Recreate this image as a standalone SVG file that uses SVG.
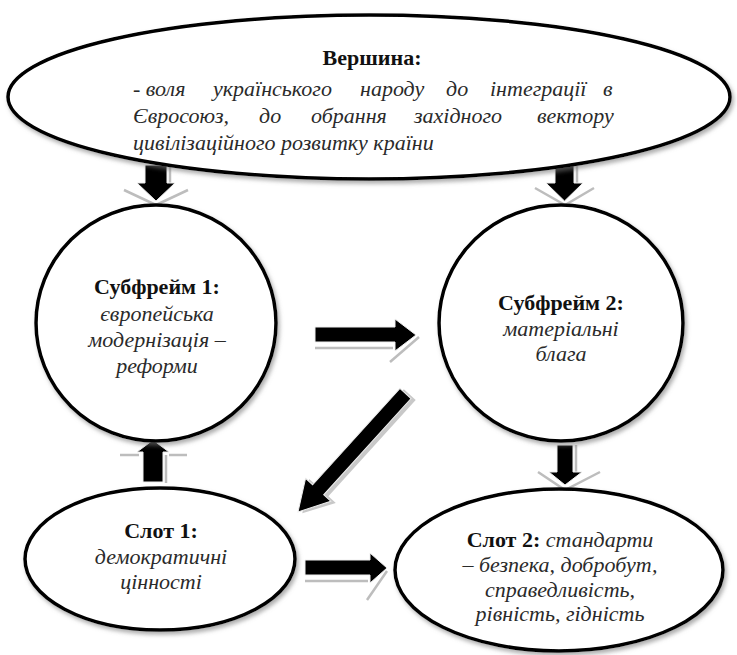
<svg xmlns="http://www.w3.org/2000/svg" width="737" height="655" viewBox="0 0 737 655">
<defs>
<style>
.node{fill:#fff;stroke:#000;stroke-width:3.5;filter:url(#sh)}
.b{font-family:"Liberation Serif","Times New Roman",serif;font-weight:bold;font-size:22px;fill:#111;text-anchor:middle}
.i{font-family:"Liberation Serif","Times New Roman",serif;font-style:italic;font-size:22px;fill:#2a2a2a}
.c{text-anchor:middle}
.arr{fill:#000;stroke:#eee;stroke-width:1}
.sh{fill:none;stroke:#bdbdbd;stroke-width:2.5}
</style>
<filter id="sh" x="-10%" y="-10%" width="125%" height="130%">
<feDropShadow dx="2" dy="3" stdDeviation="2" flood-color="#777" flood-opacity="0.6"/>
</filter>
</defs>
<rect width="737" height="655" fill="#fff"/>

<g id="connectors">
<!-- top-left down -->
<polyline class="sh" points="124,190 156,205 188,190"/>
<line class="sh" x1="170" y1="165" x2="170" y2="183"/>
<polygon class="arr" points="145,165 167,165 167,183 175,183 156,201 137,183 145,183"/>
<!-- top-right down -->
<polyline class="sh" points="535,188 565,205 594,188"/>
<line class="sh" x1="577" y1="163" x2="577" y2="183"/>
<polygon class="arr" points="555,163 574,163 574,183 583,183 564.5,201 546,183 555,183"/>
<!-- right between circles -->
<line class="sh" x1="315" y1="348" x2="393" y2="348"/>
<line class="sh" x1="390" y1="362" x2="419" y2="337"/>
<polygon class="arr" points="315,327 395,327 395,319 416,335 395,351 395,342 315,342"/>
<!-- diagonal -->
<g transform="translate(298,512) rotate(132.2)">
<polygon fill="#c8c8c8" transform="translate(-2,-4)" points="-160,-8 -30,-8 -30,-18 0,0 -30,18 -30,8 -160,8"/>
<polygon class="arr" points="-160,-7.5 -30,-7.5 -30,-17 0,0 -30,17 -30,7.5 -160,7.5"/>
</g>
<!-- up arrow slot1 -> subframe1 -->
<line class="sh" x1="120" y1="455" x2="139" y2="455"/>
<line class="sh" x1="169" y1="455" x2="187" y2="455"/>
<line class="sh" x1="166" y1="455" x2="166" y2="483"/>
<polygon class="arr" points="143,482 163,482 163,452 169,452 153,440 137,452 143,452"/>
<!-- down arrow subframe2 -> slot2 -->
<polyline class="sh" points="538,472 565,490 600,472"/>
<line class="sh" x1="576" y1="445" x2="576" y2="472"/>
<polygon class="arr" points="557,445 573,445 573,472 582,472 565,485 549,472 557,472"/>
<!-- right arrow slot1 -> slot2 -->
<line class="sh" x1="305" y1="581" x2="368" y2="581"/>
<line class="sh" x1="387" y1="571" x2="367" y2="600"/>
<polygon class="arr" points="305,560 370,560 370,553 387,568 370,583 370,575 305,575"/>
</g>

<g id="vershyna">
<ellipse class="node" cx="369" cy="97" rx="361" ry="82"/>
<text class="b" x="372" y="65">Вершина:</text>
<text class="i" y="96"><tspan x="133">- воля</tspan><tspan x="213">українського</tspan><tspan x="360">народу</tspan><tspan x="446">до</tspan><tspan x="490">інтеграції</tspan><tspan x="603">в</tspan></text>
<text class="i" y="123"><tspan x="133">Євросоюз,</tspan><tspan x="259">до</tspan><tspan x="311">обрання</tspan><tspan x="414">західного</tspan><tspan x="537">вектору</tspan></text>
<text class="i" x="133" y="150">цивілізаційного розвитку країни</text>
</g>

<g id="subframe1">
<ellipse class="node" cx="156" cy="323" rx="120" ry="118"/>
<text class="b" x="157" y="294">Субфрейм 1:</text>
<text class="i c" x="157" y="321">європейська</text>
<text class="i c" x="157" y="347">модернізація –</text>
<text class="i c" x="157" y="373">реформи</text>
</g>

<g id="subframe2">
<ellipse class="node" cx="561" cy="323" rx="122" ry="118"/>
<text class="b" x="561" y="310">Субфрейм 2:</text>
<text class="i c" x="561" y="336">матеріальні</text>
<text class="i c" x="561" y="361">блага</text>
</g>

<g id="slot1">
<ellipse class="node" cx="160" cy="559" rx="135" ry="71"/>
<text class="b" x="161" y="538">Слот 1:</text>
<text class="i c" x="161" y="564">демократичні</text>
<text class="i c" x="161" y="589">цінності</text>
</g>

<g id="slot2">
<ellipse class="node" cx="559" cy="570" rx="164" ry="81"/>
<text class="b" x="560" y="547">Слот 2: <tspan font-weight="normal" font-style="italic" fill="#2a2a2a">стандарти</tspan></text>
<text class="i c" x="560" y="572">– безпека, добробут,</text>
<text class="i c" x="560" y="597">справедливість,</text>
<text class="i c" x="560" y="621">рівність, гідність</text>
</g>
</svg>
